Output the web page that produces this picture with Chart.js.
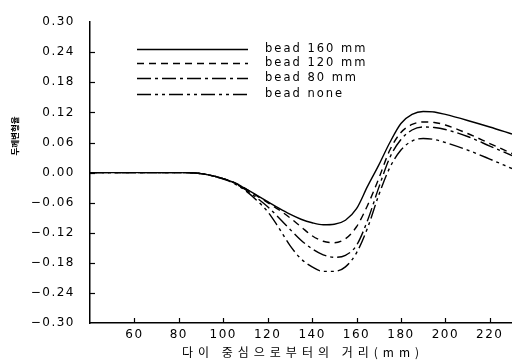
<!DOCTYPE html>
<html><head><meta charset="utf-8">
<script src="https://cdn.jsdelivr.net/npm/chart.js@4/dist/chart.umd.min.js"></script>
<style>html,body{margin:0;padding:0;background:#fff}</style>
</head><body>
<canvas id="c" width="512" height="362"></canvas>
<script>
const distances = [40,50,60,70,80,90,100,105,110,115,120,125,130,135,140,145,150,155,160,165,170,175,180,185,190,195,200,210,220,230];
const bead160 = [0,0,0,0,0,-0.002,-0.012,-0.020,-0.032,-0.045,-0.058,-0.071,-0.083,-0.093,-0.100,-0.104,-0.103,-0.095,-0.072,-0.027,0.015,0.060,0.098,0.116,0.122,0.121,0.116,0.104,0.091,0.077];
const bead120 = [0,0,0,0,0,-0.002,-0.012,-0.020,-0.032,-0.046,-0.060,-0.074,-0.090,-0.108,-0.126,-0.137,-0.140,-0.132,-0.108,-0.065,-0.012,0.045,0.080,0.096,0.101,0.100,0.095,0.078,0.058,0.038];
const bead80 = [0,0,0,0,0,-0.002,-0.012,-0.021,-0.034,-0.050,-0.068,-0.090,-0.113,-0.135,-0.152,-0.164,-0.169,-0.165,-0.145,-0.095,-0.030,0.030,0.066,0.085,0.091,0.090,0.086,0.072,0.053,0.034];
const beadNone = [0,0,0,0,0,-0.002,-0.013,-0.022,-0.036,-0.055,-0.078,-0.110,-0.145,-0.172,-0.188,-0.197,-0.197,-0.188,-0.160,-0.110,-0.045,0.010,0.045,0.063,0.068,0.066,0.060,0.045,0.027,0.008];
const seriesLabels = ['bead 160 mm','bead 120 mm','bead 80 mm','bead none'];
const xTickValues = [60,80,100,120,140,160,180,200,220];
const yTickValues = [-0.30,-0.24,-0.18,-0.12,-0.06,0.00,0.06,0.12,0.18,0.24,0.30];
const xTitle = '다이 중심으로부터의 거리(mm)';
const yTitle = '두께변형율';

const dashes = [[], [7,5], [14,4,3,4], [14,4,3,4,3,4]];
const seriesValues = [bead160, bead120, bead80, beadNone];

const datasets = seriesValues.map((vals, i) => ({
  label: seriesLabels[i],
  data: distances.map((d, j) => ({x: d, y: vals[j]})),
  borderColor: '#000',
  borderWidth: 1.4,
  borderDash: dashes[i],
  pointRadius: 0,
  fill: false,
  cubicInterpolationMode: 'monotone'
}));

const spacingPlugin = {
  id: 'spacing',
  beforeLayout(chart){ chart.ctx.letterSpacing = '1.5px'; },
  beforeDraw(chart){ chart.ctx.letterSpacing = '1.5px'; }
};

const decorPlugin = {
  id: 'decor',
  afterDraw(chart){
    const ctx = chart.ctx;
    const xs = chart.scales.x, ys = chart.scales.y;
    const area = chart.chartArea;
    ctx.save();
    ctx.strokeStyle = '#000';
    ctx.lineWidth = 1.2;
    ctx.setLineDash([]);
    xTickValues.forEach(v => {
      const px = Math.round(xs.getPixelForValue(v)) + 0.5;
      ctx.beginPath(); ctx.moveTo(px, area.bottom); ctx.lineTo(px, area.bottom - 5); ctx.stroke();
    });
    yTickValues.slice(1, -1).forEach(v => {
      const py = Math.round(ys.getPixelForValue(v)) + 0.5;
      ctx.beginPath(); ctx.moveTo(area.left, py); ctx.lineTo(area.left + 5, py); ctx.stroke();
    });
    const lx0 = 137, lx1 = 248, tx = 265;
    const rows = [49, 63, 78, 94];
    ctx.font = '11.5px "DejaVu Sans"';
    ctx.letterSpacing = '2px';
    ctx.fillStyle = '#000';
    ctx.textBaseline = 'middle';
    ctx.textAlign = 'left';
    chart.data.datasets.forEach((ds, i) => {
      ctx.save();
      ctx.lineWidth = 1.4;
      ctx.setLineDash(ds.borderDash);
      ctx.beginPath(); ctx.moveTo(lx0, rows[i] + 0.5); ctx.lineTo(lx1, rows[i] + 0.5); ctx.stroke();
      ctx.restore();
      ctx.fillText(ds.label, tx, rows[i]);
    });
    ctx.font = '12px "Noto Sans CJK KR"';
    ctx.letterSpacing = '5px';
    ctx.textAlign = 'center';
    ctx.fillText(xTitle, (area.left + area.right) / 2 + 2, 352);
    ctx.translate(15, 136);
    ctx.rotate(-Math.PI / 2);
    ctx.font = 'bold 8.5px "Noto Sans CJK KR"';
    ctx.letterSpacing = '0px';
    ctx.fillText(yTitle, 0, 0);
    ctx.restore();
  }
};

new Chart(document.getElementById('c'), {
  type: 'line',
  data: { datasets },
  options: {
    responsive: false,
    devicePixelRatio: 1,
    animation: false,
    layout: { padding: { top: 12, right: 0, left: 0, bottom: 0 } },
    plugins: { legend: { display: false }, tooltip: { enabled: false } },
    scales: {
      x: {
        type: 'linear', min: 40, max: 230,
        afterBuildTicks(s){ s.ticks = xTickValues.map(v => ({value: v})); },
        afterFit(s){ s.height = 39; },
        grid: { drawOnChartArea: false, drawTicks: false },
        border: { display: true, color: '#000', width: 1.5 },
        ticks: { padding: 5, color: '#000', autoSkip: false, maxRotation: 0,
                 font: { family: 'DejaVu Sans', size: 12 } }
      },
      y: {
        type: 'linear', min: -0.30, max: 0.30,
        afterBuildTicks(s){ s.ticks = yTickValues.map(v => ({value: v})); },
        afterFit(s){ s.width = 90; },
        grid: { drawOnChartArea: false, drawTicks: false },
        border: { display: true, color: '#000', width: 1.5 },
        ticks: { padding: 15, color: '#000', autoSkip: false,
                 font: { family: 'DejaVu Sans', size: 12 },
                 callback: v => v.toFixed(2).replace('-', '−') }
      }
    }
  },
  plugins: [spacingPlugin, decorPlugin]
});
</script>
</body></html>
